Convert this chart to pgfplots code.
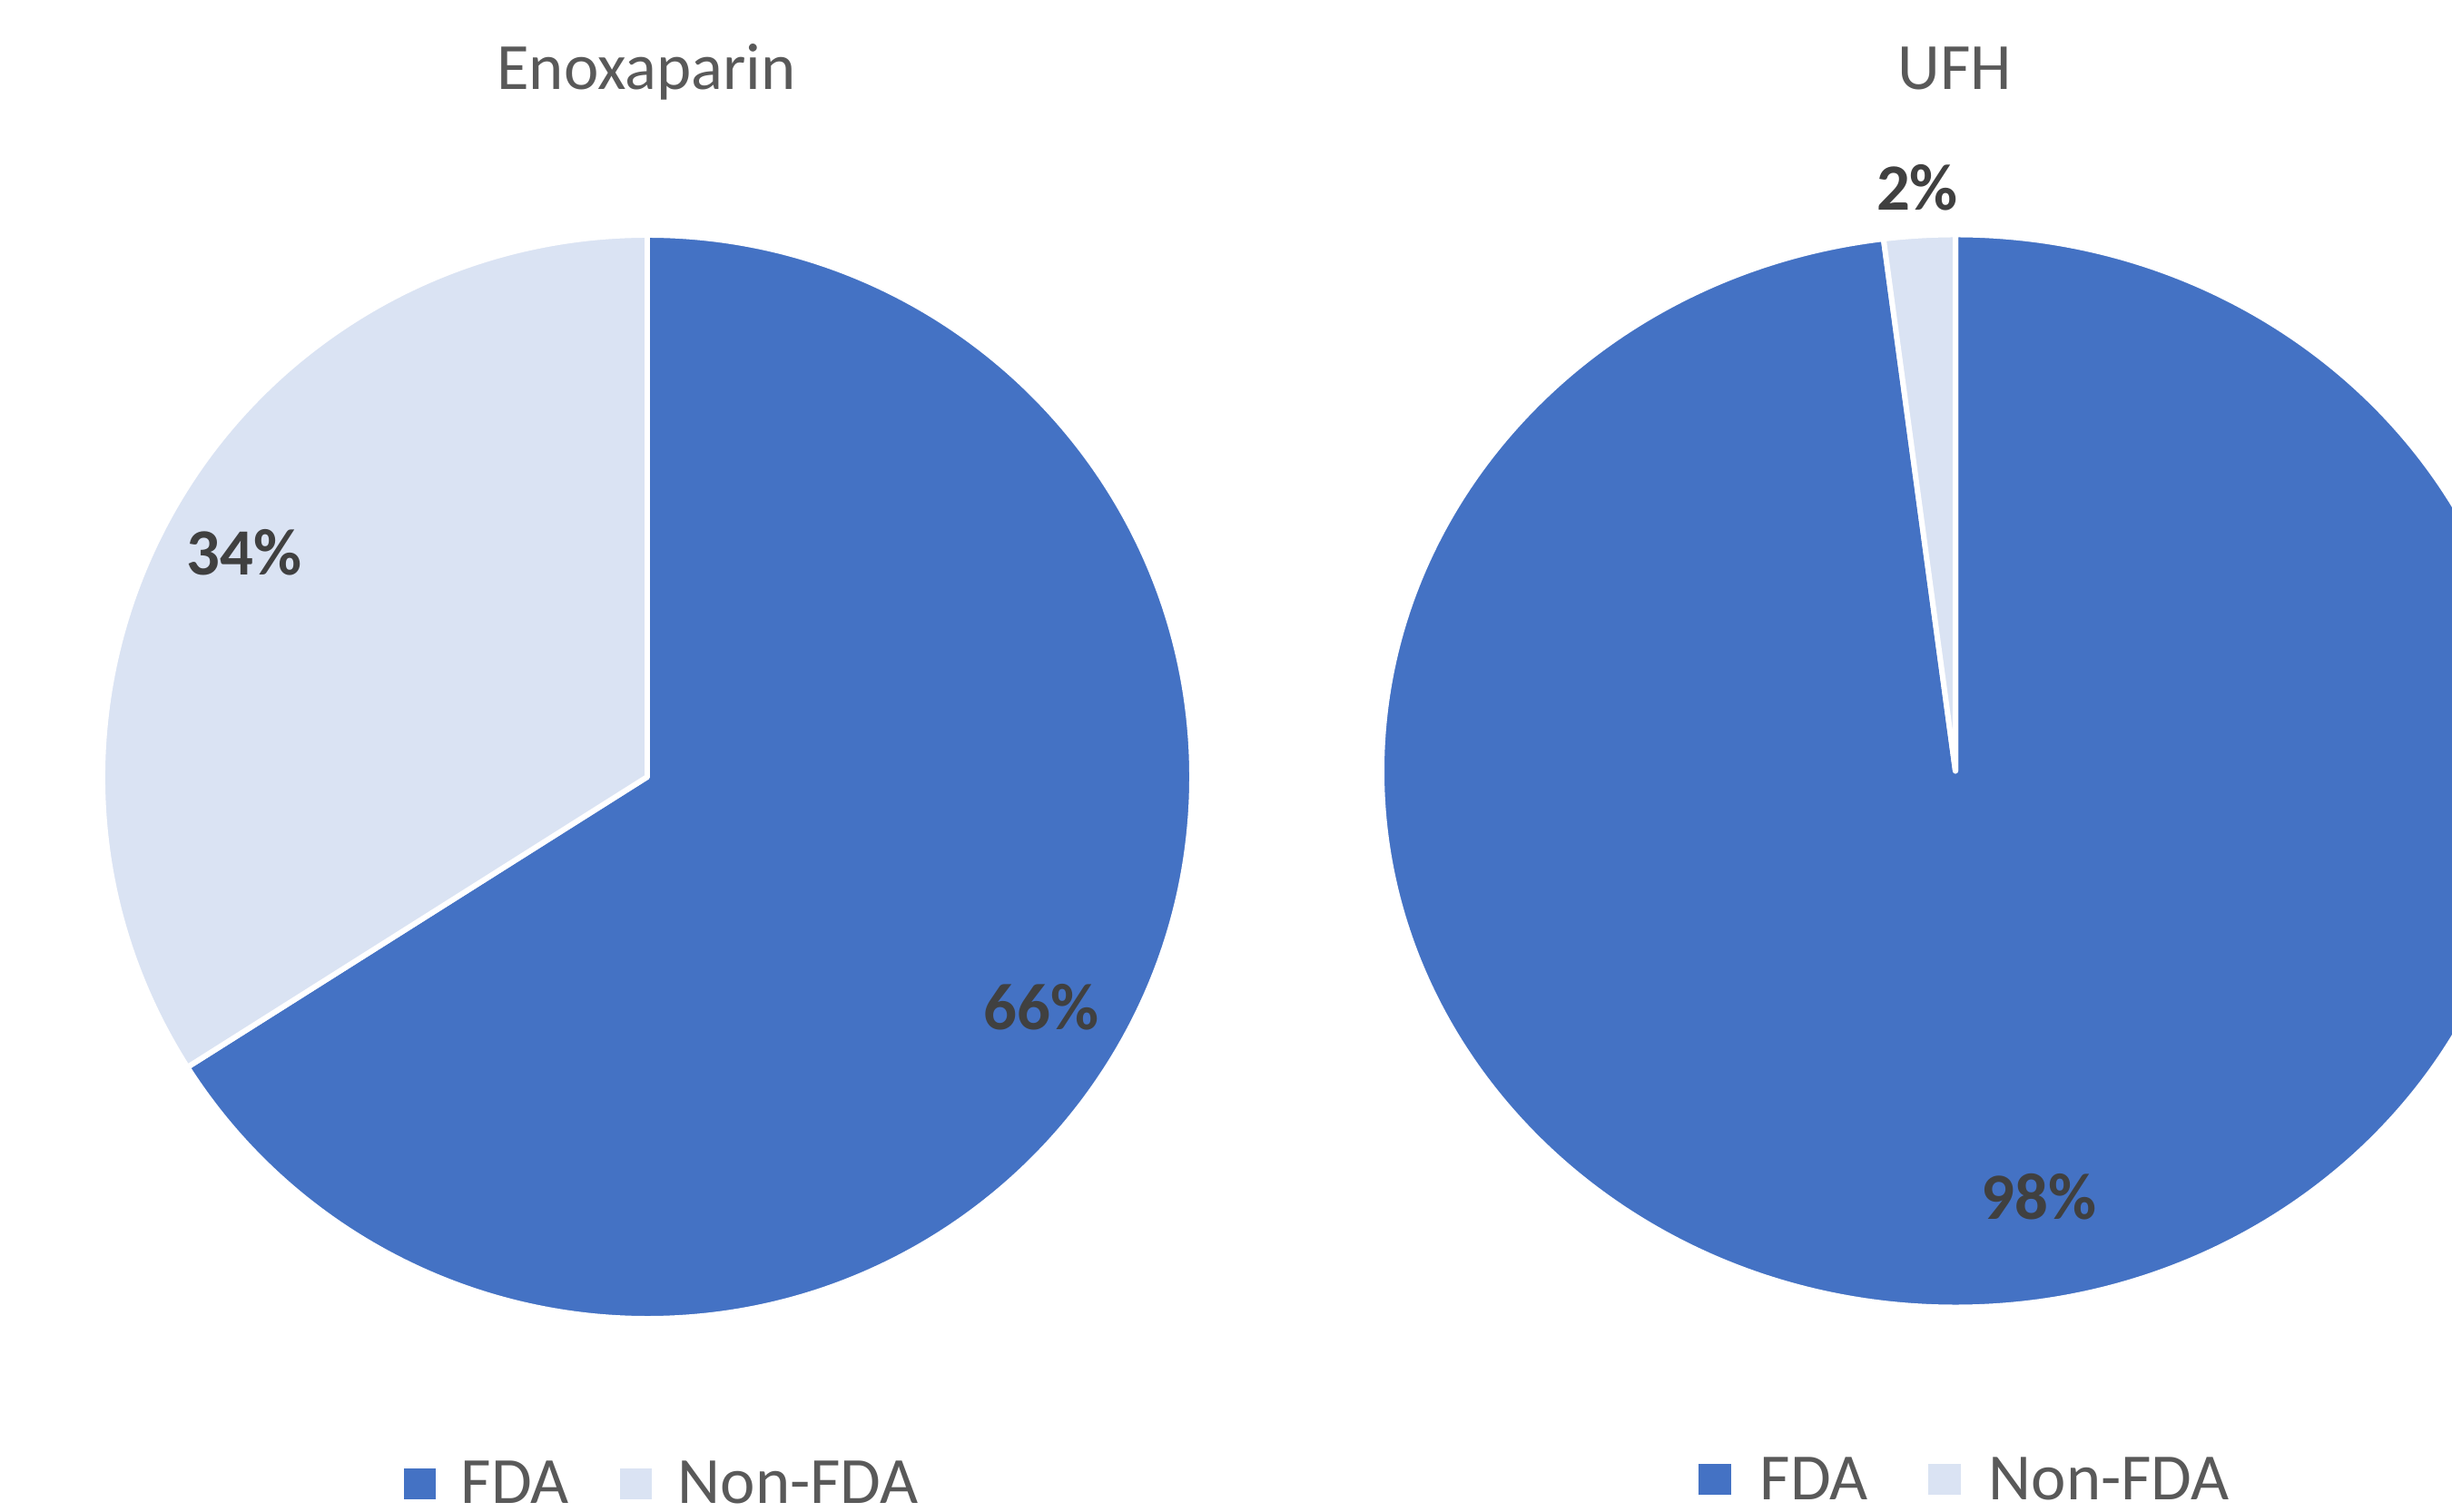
\documentclass[border=0pt]{standalone}
\usepackage{pgfplots}
\pgfplotsset{compat=1.18}
\usepackage{pgfplotstable}
\usepackage{fontspec}
\setmainfont{Carlito}
\definecolor{fda}{HTML}{4472C4}
\definecolor{nonfda}{HTML}{DAE3F3}
\definecolor{titlegray}{HTML}{595959}
\definecolor{labelgray}{HTML}{404040}

\pgfplotstableread{
group FDA NonFDA
Enoxaparin 66 34
UFH 98 2
}\piedata

\pgfplotstablegetelem{0}{FDA}\of\piedata \let\eF\pgfplotsretval
\pgfplotstablegetelem{0}{NonFDA}\of\piedata \let\eN\pgfplotsretval
\pgfplotstablegetelem{1}{FDA}\of\piedata \let\uF\pgfplotsretval
\pgfplotstablegetelem{1}{NonFDA}\of\piedata \let\uN\pgfplotsretval
\pgfmathsetmacro\eEnd{90-360*(\eF/(\eF+\eN))}
\pgfmathsetmacro\uEnd{90-360*(\uF/(\uF+\uN))}

\newcommand\chartfont{\fontsize{20.7}{24}\selectfont}

\begin{document}
\begin{tikzpicture}
\begin{axis}[
  scale only axis,
  width=27.01cm, height=16.65cm,
  xmin=0, xmax=2701, ymin=0, ymax=1665,
  hide axis,
  clip=true,
]
\addplot[draw=none] coordinates {(0,0) (2701,1665)};
% Enoxaparin pie
\fill[fda, draw=white, line width=1.7pt, line join=round]
  (axis cs:713,809) -- +(90:6cm and 5.97cm)
  arc[start angle=90, end angle=\eEnd, x radius=6cm, y radius=5.97cm] -- cycle;
\fill[nonfda, draw=white, line width=1.7pt, line join=round]
  (axis cs:713,809) -- +(\eEnd:6cm and 5.97cm)
  arc[start angle=\eEnd, end angle=-270, x radius=6cm, y radius=5.97cm] -- cycle;
% UFH pie
\fill[fda, draw=white, line width=1.7pt, line join=round]
  (axis cs:2154,815.5) -- +(90:6.32cm and 5.91cm)
  arc[start angle=90, end angle=\uEnd, x radius=6.32cm, y radius=5.91cm] -- cycle;
\fill[nonfda, draw=white, line width=1.7pt, line join=round]
  (axis cs:2154,815.5) -- +(\uEnd:6.32cm and 5.91cm)
  arc[start angle=\uEnd, end angle=-270, x radius=6.32cm, y radius=5.91cm] -- cycle;
% titles
\node[anchor=base, text=titlegray, font=\chartfont, inner sep=0pt] at (axis cs:712,1566) {Enoxaparin};
\node[anchor=base, text=titlegray, font=\chartfont, inner sep=0pt] at (axis cs:2153,1566) {UFH};
% data labels
\node[anchor=base, text=labelgray, font=\chartfont\bfseries, inner sep=0pt] at (axis cs:269,1031) {34\%};
\node[anchor=base, text=labelgray, font=\chartfont\bfseries, inner sep=0pt] at (axis cs:1147,530) {66\%};
\node[anchor=base, text=labelgray, font=\chartfont\bfseries, inner sep=0pt] at (axis cs:2112,1433) {2\%};
\node[anchor=base, text=labelgray, font=\chartfont\bfseries, inner sep=0pt] at (axis cs:2246,321) {98\%};
% legends
\fill[fda] (axis cs:445,13) rectangle (axis cs:480,47);
\node[anchor=base west, text=titlegray, font=\chartfont, inner sep=0pt] at (axis cs:507,9) {FDA};
\fill[nonfda] (axis cs:683,13) rectangle (axis cs:718,47);
\node[anchor=base west, text=titlegray, font=\chartfont, inner sep=0pt] at (axis cs:746,9) {Non-FDA};
\fill[fda] (axis cs:1871,18) rectangle (axis cs:1907,52);
\node[anchor=base west, text=titlegray, font=\chartfont, inner sep=0pt] at (axis cs:1938,13) {FDA};
\fill[nonfda] (axis cs:2124,18) rectangle (axis cs:2160,52);
\node[anchor=base west, text=titlegray, font=\chartfont, inner sep=0pt] at (axis cs:2190,13) {Non-FDA};
\end{axis}
\pgfresetboundingbox
\useasboundingbox (current axis.south west) rectangle (current axis.north east);
\end{tikzpicture}
\end{document}
